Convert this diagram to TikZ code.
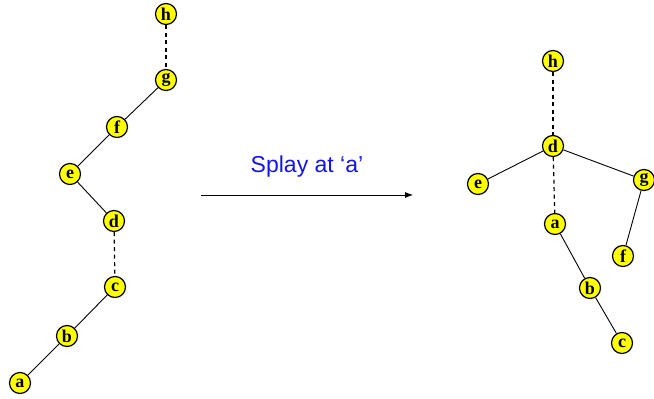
\documentclass[tikz,border=0pt]{standalone}
\usepackage{fontspec}
\setmainfont{Liberation Serif}
\newfontfamily\arialfont{Liberation Sans}
\usetikzlibrary{arrows.meta}
\definecolor{nodeyellow}{RGB}{255,255,0}
\definecolor{labelblue}{RGB}{20,20,240}
\begin{document}
\begin{tikzpicture}[x=1pt,y=-1pt,
  vtx/.style={circle,draw=black,line width=1.2pt,fill=nodeyellow,minimum size=21pt,inner sep=0pt,font=\bfseries\fontsize{18}{18}\selectfont},
  edge/.style={line width=0.9pt},
  dedge/.style={line width=1.2pt,dash pattern=on 4pt off 3.5pt}]
\useasboundingbox (0,0) rectangle (654,399);
% left tree
\node[vtx] (lh) at (166,14) {h};
\node[vtx] (lg) at (166,80) {g};
\node[vtx] (lf) at (117,127) {f};
\node[vtx] (le) at (70,174) {e};
\node[vtx] (ld) at (114,221) {d};
\node[vtx] (lc) at (115,287) {c};
\node[vtx] (lb) at (67,336) {b};
\node[vtx] (la) at (20,383) {a};
\draw[dedge] (lh) -- (lg);
\draw[edge] (lg) -- (lf);
\draw[edge] (lf) -- (le);
\draw[edge] (le) -- (ld);
\draw[dedge] (ld) -- (lc);
\draw[edge] (lc) -- (lb);
\draw[edge] (lb) -- (la);
% arrow
\coordinate (as) at (201,195);
\coordinate (ae) at (413,195);
\draw[line width=0.8pt,-{Latex[length=8pt,width=6pt]}] (as) -- (ae);
\node[font=\arialfont\fontsize{23}{23}\selectfont,text=labelblue] (lbl) at (307,167) {Splay at ‘a’};
% right tree
\node[vtx] (rh) at (553,61) {h};
\node[vtx] (rd) at (553,146) {d};
\node[vtx] (re) at (478,184) {e};
\node[vtx] (rg) at (644,180) {g};
\node[vtx] (ra) at (555,224) {a};
\node[vtx] (rf) at (623,256) {f};
\node[vtx] (rb) at (590,288) {b};
\node[vtx] (rc) at (622,343) {c};
\draw[dedge] (rh) -- (rd);
\draw[edge] (rd) -- (re);
\draw[edge] (rd) -- (rg);
\draw[dedge] (rd) -- (ra);
\draw[edge] (rg) -- (rf);
\draw[edge] (ra) -- (rb);
\draw[edge] (rb) -- (rc);
\end{tikzpicture}
\end{document}
